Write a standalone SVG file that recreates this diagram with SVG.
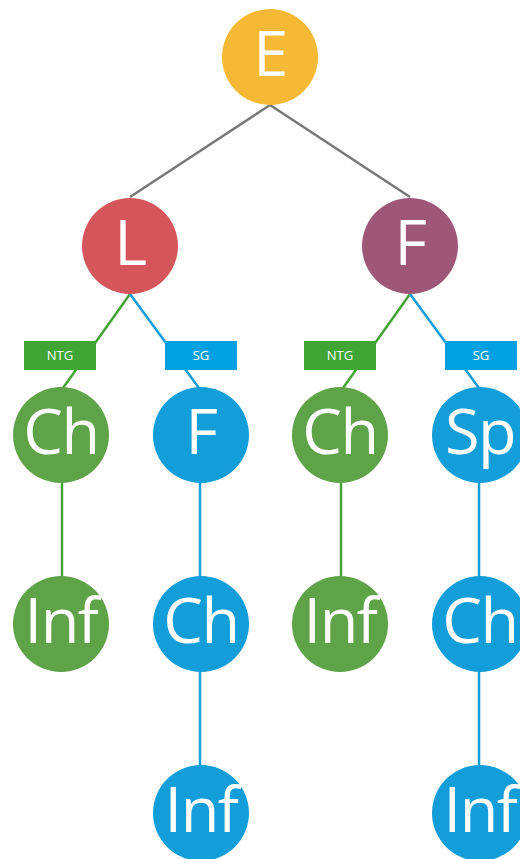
<svg xmlns="http://www.w3.org/2000/svg" width="520" height="859" viewBox="0 0 520 859">
  <style>
    .node text { font-family: "Open Sans", "Liberation Sans", sans-serif; font-size: 63px; font-weight: 400; letter-spacing: -1.5px; fill: #ffffff; text-anchor: middle; }
    .tag text { font-family: "Open Sans", "Liberation Sans", sans-serif; font-size: 13px; fill: #ffffff; text-anchor: middle; }
    .gray { stroke: #777777; stroke-width: 2.5; fill: none; }
    .grn { stroke: #44a537; stroke-width: 2.5; fill: none; }
    .blu { stroke: #139dd9; stroke-width: 2.5; fill: none; }
  </style>
  <rect width="520" height="859" fill="#ffffff"/>

  <!-- connectors -->
  <g id="connectors">
    <line class="gray" x1="270" y1="105" x2="130" y2="197"/>
    <line class="gray" x1="270" y1="105" x2="410" y2="197"/>
    <line class="grn" x1="130" y1="294" x2="63" y2="388"/>
    <line class="blu" x1="130" y1="294" x2="199" y2="388"/>
    <line class="grn" x1="410" y1="294" x2="343" y2="388"/>
    <line class="blu" x1="410" y1="294" x2="479" y2="388"/>
    <line class="grn" x1="62" y1="482" x2="62" y2="576"/>
    <line class="blu" x1="200" y1="482" x2="200" y2="576"/>
    <line class="grn" x1="341" y1="482" x2="341" y2="576"/>
    <line class="blu" x1="479" y1="482" x2="479" y2="576"/>
    <line class="blu" x1="200" y1="672" x2="200" y2="765"/>
    <line class="blu" x1="479" y1="672" x2="479" y2="765"/>
  </g>

  <!-- edge tags -->
  <g id="tag-ntg-left" class="tag"><rect x="24" y="341" width="72" height="29" fill="#41a535"/><text x="60" y="360">NTG</text></g>
  <g id="tag-sg-left" class="tag"><rect x="165" y="341" width="72" height="29" fill="#00a0e3"/><text x="201" y="360">SG</text></g>
  <g id="tag-ntg-right" class="tag"><rect x="304" y="341" width="72" height="29" fill="#41a535"/><text x="340" y="360">NTG</text></g>
  <g id="tag-sg-right" class="tag"><rect x="445" y="341" width="72" height="29" fill="#00a0e3"/><text x="481" y="360">SG</text></g>

  <!-- nodes -->
  <g id="node-e" class="node"><circle cx="270" cy="57" r="48" fill="#f5b935"/><text x="270" y="76">E</text></g>
  <g id="node-l" class="node"><circle cx="130" cy="246" r="48" fill="#d4565a"/><text x="130" y="265">L</text></g>
  <g id="node-f" class="node"><circle cx="410" cy="246" r="48" fill="#9e5776"/><text x="410" y="265">F</text></g>

  <g id="node-ch1" class="node"><circle cx="61" cy="435" r="48" fill="#5ea348"/><text x="61" y="454">Ch</text></g>
  <g id="node-f2" class="node"><circle cx="201" cy="435" r="48" fill="#139dd9"/><text x="201" y="454">F</text></g>
  <g id="node-ch2" class="node"><circle cx="340" cy="435" r="48" fill="#5ea348"/><text x="340" y="454">Ch</text></g>
  <g id="node-sp" class="node"><circle cx="480" cy="435" r="48" fill="#139dd9"/><text x="480" y="454">Sp</text></g>

  <g id="node-inf1" class="node"><circle cx="61" cy="624" r="48" fill="#5ea348"/><text x="61" y="643">Inf</text></g>
  <g id="node-ch3" class="node"><circle cx="201" cy="624" r="48" fill="#139dd9"/><text x="201" y="643">Ch</text></g>
  <g id="node-inf2" class="node"><circle cx="340" cy="624" r="48" fill="#5ea348"/><text x="340" y="643">Inf</text></g>
  <g id="node-ch4" class="node"><circle cx="480" cy="624" r="48" fill="#139dd9"/><text x="480" y="643">Ch</text></g>

  <g id="node-inf3" class="node"><circle cx="201" cy="813" r="48" fill="#139dd9"/><text x="201" y="832">Inf</text></g>
  <g id="node-inf4" class="node"><circle cx="480" cy="813" r="48" fill="#139dd9"/><text x="480" y="832">Inf</text></g>
</svg>
